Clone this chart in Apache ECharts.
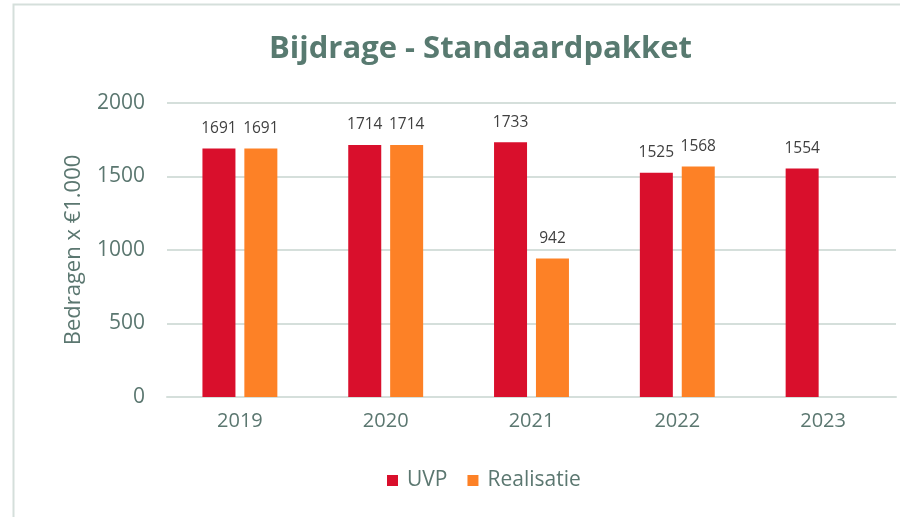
<!DOCTYPE html>
<html><head><meta charset="utf-8">
<script src="https://cdn.jsdelivr.net/npm/echarts@6/dist/echarts.min.js"></script>
<style>html,body{margin:0;padding:0;background:#fff}#c{width:900px;height:517px}</style>
</head><body><div id="c"></div>
<script>
var categories = ['2019','2020','2021','2022','2023'];
var uvp = [1691, 1714, 1733, 1525, 1554];
var realisatie = [1691, 1714, 942, 1568, null];
var yTicks = [0, 500, 1000, 1500, 2000];

var txt = '#5b7770';
var chart = echarts.init(document.getElementById('c'));
chart.setOption({
  animation: false,
  graphic: [{type:'rect', shape:{x:13.5,y:4.5,width:900,height:600}, style:{fill:'none', stroke:'#d5dfdb', lineWidth:2}}],
  title: {text:'Bijdrage - Standaardpakket', left:264, top:29,
    textStyle:{fontFamily:'Open Sans', fontWeight:'bold', fontSize:31, color:'#587a70'}},
  legend: {bottom:21, left:382, itemWidth:11, itemHeight:11, itemGap:20, icon:'rect',
    textStyle:{fontFamily:'Open Sans', fontSize:21, color:txt, padding:[0,0,0,4]}},
  grid: {left:167, right:4, top:103, bottom:120},
  xAxis: {type:'category', data:categories,
    axisLine:{lineStyle:{color:'#d5dfdb', width:2}}, axisTick:{show:false},
    axisLabel:{fontFamily:'Open Sans', fontSize:20, color:txt, margin:14}},
  yAxis: {type:'value', min:yTicks[0], max:yTicks[yTicks.length-1], interval:500,
    name:'Bedragen x €1.000', nameLocation:'middle', nameGap:82,
    nameTextStyle:{fontFamily:'Open Sans', fontSize:22, color:txt},
    axisLine:{show:false}, axisTick:{show:false},
    axisLabel:{fontFamily:'Open Sans', fontSize:21, color:txt, margin:22, formatter:function(v){return String(v);}},
    splitLine:{lineStyle:{color:'#d5dfdb', width:2}}},
  series: [
    {name:'UVP', type:'bar', data:uvp, barWidth:33, barGap:'27%', itemStyle:{color:'#d90f2c'},
      label:{show:true, position:'top', distance:12, fontFamily:'Open Sans', fontSize:15.5, color:'#404040'}},
    {name:'Realisatie', type:'bar', data:realisatie, barWidth:33, itemStyle:{color:'#fd8126'},
      label:{show:true, position:'top', distance:12, fontFamily:'Open Sans', fontSize:15.5, color:'#404040'}}
  ]
});
</script></body></html>
